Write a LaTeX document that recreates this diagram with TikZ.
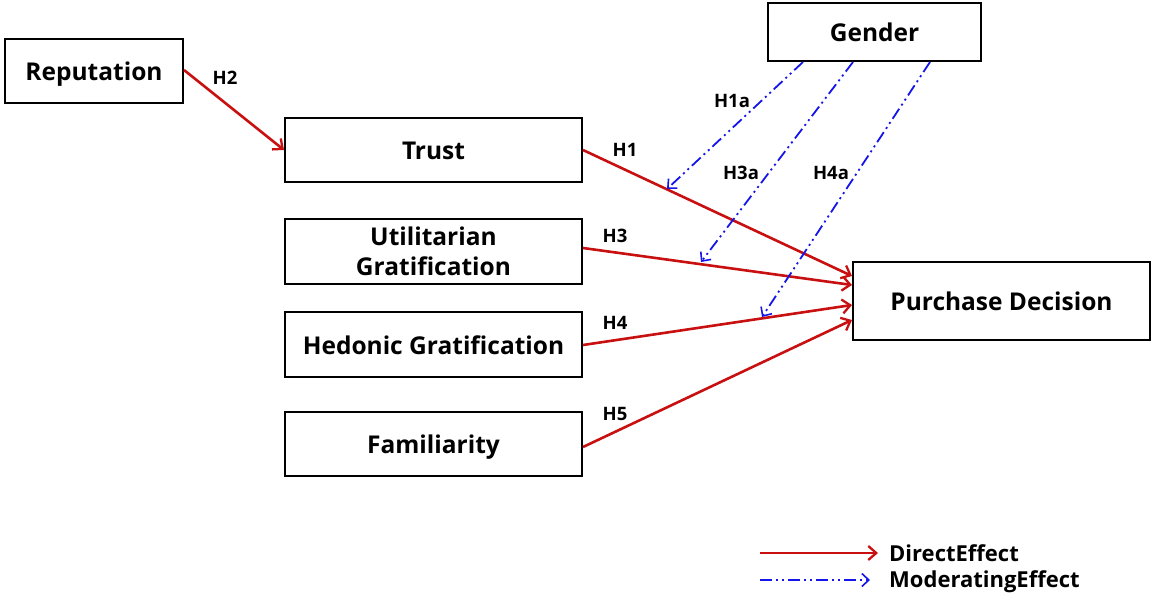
\documentclass[tikz,border=0pt]{standalone}
\usepackage{fontspec}
\setmainfont{Open Sans}
\usetikzlibrary{arrows.meta}
\definecolor{direct}{RGB}{200,16,16}
\definecolor{moder}{RGB}{20,20,235}
\begin{document}
\begin{tikzpicture}[x=1pt,y=-1pt,
  box/.style={draw=black,line width=2pt,fill=white,inner sep=0pt,align=center,
    font=\fontsize{24.5}{30}\selectfont\bfseries},
  onebox/.style={box,text height=25.5pt,text depth=6pt},
  lbl/.style={font=\fontsize{18.5}{20}\selectfont\bfseries,inner sep=0pt},
  legtext/.style={font=\fontsize{22}{22}\selectfont\bfseries,inner sep=0pt,anchor=west},
  directarrow/.style={draw=direct,line width=2.6pt,-{Straight Barb[length=8pt,width=14pt,line width=2.3pt]}},
  modarrow/.style={draw=moder,line width=1.8pt,
    dash pattern=on 12pt off 4pt on 2pt off 4pt on 2pt off 4pt,
    -{Straight Barb[length=7pt,width=13pt,line width=1.6pt]}}]
\useasboundingbox (0,0) rectangle (1151,595);

% constructs
\node[onebox,minimum width=178pt,minimum height=64pt] (rep) at (94,71) {Reputation};
\node[onebox,minimum width=213pt,minimum height=58pt] (gen) at (874.5,32) {Gender};
\node[onebox,minimum width=297pt,minimum height=64pt] (tru) at (433.5,150) {Trust};
\node[box,minimum width=297pt,minimum height=65pt] (uti) at (433.5,251) {Utilitarian\\Gratification};
\node[onebox,minimum width=297pt,minimum height=65pt] (hed) at (433.5,344.5) {Hedonic Gratification};
\node[onebox,minimum width=297pt,minimum height=64pt] (fam) at (433.5,444) {Familiarity};
\node[onebox,minimum width=297pt,minimum height=78pt] (pur) at (1001.5,301) {Purchase Decision};

% direct effects
\draw[directarrow] (rep.east |- 0,70) -- (tru.west |- 0,150);
\draw[directarrow] (tru.east |- 0,150) -- (pur.west |- 0,276);
\draw[directarrow] (uti.east |- 0,248) -- (pur.west |- 0,285);
\draw[directarrow] (hed.east |- 0,345) -- (pur.west |- 0,305);
\draw[directarrow] (fam.east |- 0,447) -- (pur.west |- 0,320);

% moderating effects of gender
\coordinate (m1) at (667,189);
\coordinate (m3) at (701,262);
\coordinate (m4) at (762,317);
\draw[modarrow] (gen.south -| 803,0) -- (m1);
\draw[modarrow] (gen.south -| 853,0) -- (m3);
\draw[modarrow] (gen.south -| 930,0) -- (m4);

% hypothesis labels
\node[lbl] (h2) at (225,78) {H2};
\node[lbl] (h1) at (625,150) {H1};
\node[lbl] (h3) at (615,236) {H3};
\node[lbl] (h4) at (615,323) {H4};
\node[lbl] (h5) at (615,414) {H5};
\node[lbl] (h1a) at (732,101) {H1a};
\node[lbl] (h3a) at (741,173) {H3a};
\node[lbl] (h4a) at (831,173) {H4a};

% legend
\coordinate (la) at (760,553);
\coordinate (lb) at (878,553);
\coordinate (lc) at (760,580);
\coordinate (ld) at (870,580);
\draw[directarrow] (la) -- (lb);
\draw[modarrow] (lc) -- (ld);
\node[legtext] (ltx1) at (889,553) {DirectEffect};
\node[legtext] (ltx2) at (889,582) {ModeratingEffect};
\end{tikzpicture}
\end{document}
